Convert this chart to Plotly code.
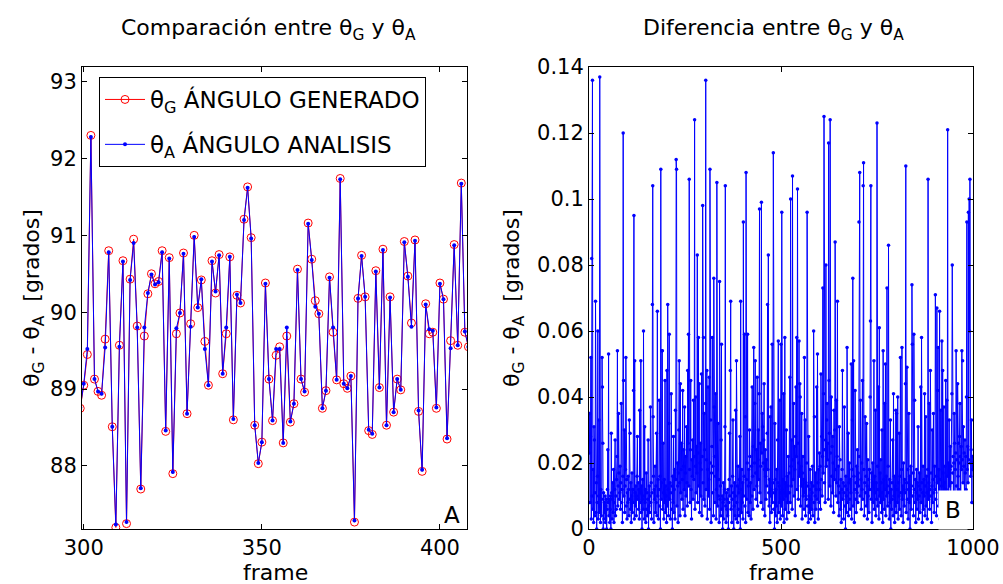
import plotly.graph_objects as go

# ---------------- data ----------------
frames_left = list(range(299, 409))
theta_g = [
    88.75, 89.05, 89.45, 92.30, 89.13, 88.97, 88.92, 89.65, 90.80, 88.51,
    87.20, 89.57, 90.67, 87.25, 90.43, 90.95, 89.82, 87.70, 89.69, 90.24,
    90.50, 90.37, 90.40, 90.80, 88.45, 90.71, 87.90, 89.72, 89.99, 90.77,
    88.68, 89.85, 91.00, 90.06, 90.42, 89.62, 89.05, 90.67, 90.25, 90.75,
    89.20, 89.72, 90.72, 88.60, 90.22, 90.12, 91.21, 91.63, 90.97, 88.53,
    88.03, 88.31, 90.38, 89.13, 88.59, 89.44, 89.55, 88.30, 89.69, 88.57,
    88.81, 90.56, 89.13, 88.96, 91.16, 90.69, 90.15, 89.98, 88.75, 88.98,
    90.46, 89.74, 89.12, 91.74, 89.07, 89.01, 89.17, 87.27, 90.18, 90.74,
    90.20, 88.46, 88.41, 90.54, 89.02, 90.82, 88.53, 90.20, 88.70, 89.13,
    88.99, 90.92, 90.47, 89.86, 90.94, 88.71, 87.93, 90.11, 89.72, 89.74,
    88.75, 90.38, 90.17, 88.35, 89.63, 90.88, 89.57, 91.68, 89.74, 89.55,
]
theta_a = [
    88.76, 89.07, 89.52, 92.28, 89.13, 88.97, 88.94, 89.54, 90.78, 88.51,
    87.24, 89.55, 90.66, 87.27, 90.42, 90.90, 89.80, 87.71, 89.80, 90.25,
    90.49, 90.36, 90.39, 90.78, 88.46, 90.70, 87.92, 89.79, 89.99, 90.76,
    88.68, 89.81, 90.98, 90.06, 90.43, 89.52, 89.05, 90.66, 90.27, 90.74,
    89.20, 89.80, 90.72, 88.61, 90.23, 90.12, 91.20, 91.62, 90.96, 88.53,
    88.04, 88.31, 90.37, 89.13, 88.59, 89.52, 89.52, 88.30, 89.80, 88.58,
    88.81, 90.55, 89.13, 88.97, 91.15, 90.68, 90.07, 89.98, 88.75, 88.98,
    90.45, 89.80, 89.12, 91.73, 89.07, 89.01, 89.17, 87.29, 90.18, 90.73,
    90.20, 88.47, 88.42, 90.53, 89.02, 90.81, 88.53, 90.19, 88.70, 89.13,
    88.99, 90.91, 90.46, 89.81, 90.93, 88.72, 87.95, 90.10, 89.78, 89.76,
    88.76, 90.37, 90.17, 88.36, 89.53, 90.87, 89.57, 91.67, 89.75, 89.55,
]

# |theta_G - theta_A| in thousandths of a degree, frames 1..1000
diff_milli = [
    23, 35, 8, 28, 52, 3, 82, 10, 136, 6, 18, 2, 31, 27, 4, 11, 69, 5, 14, 0,
    8, 16, 60, 3, 10, 33, 5, 137, 7, 2, 12, 4, 9, 52, 43, 26, 0, 11, 3, 8,
    5, 10, 2, 7, 9, 0, 6, 12, 24, 8, 53, 4, 9, 2, 6, 10, 0, 29, 11, 3,
    9, 14, 5, 18, 2, 8, 12, 27, 4, 10, 6, 15, 22, 54, 7, 13, 35, 17, 9, 11,
    19, 6, 14, 38, 8, 12, 2, 16, 120, 45, 10, 30, 5, 13, 18, 52, 7, 15, 3, 11,
    8, 16, 12, 4, 33, 9, 29, 6, 14, 2, 10, 17, 5, 12, 8, 42, 95, 3, 51, 11,
    7, 13, 4, 10, 16, 28, 9, 14, 6, 12, 3, 36, 8, 11, 51, 5, 13, 0, 9, 15,
    6, 60, 10, 3, 31, 8, 12, 2, 17, 6, 11, 4, 9, 27, 0, 7, 13, 5, 10, 37,
    8, 14, 3, 11, 68, 104, 34, 16, 2, 12, 9, 19, 5, 13, 8, 29, 4, 66, 10, 15,
    3, 12, 39, 7, 16, 0, 109, 9, 14, 54, 54, 6, 26, 11, 3, 15, 8, 45, 5, 13,
    10, 2, 48, 7, 68, 12, 4, 32, 59, 9, 14, 3, 11, 41, 6, 13, 0, 16, 8, 28,
    5, 12, 18, 3, 36, 15, 112, 109, 7, 20, 13, 2, 17, 30, 51, 14, 4, 44, 11, 18,
    26, 9, 15, 42, 6, 19, 24, 12, 37, 4, 17, 22, 10, 31, 14, 7, 48, 26, 59, 13,
    106, 18, 8, 24, 45, 12, 3, 21, 16, 27, 9, 39, 15, 22, 124, 6, 19, 40, 11, 25,
    17, 83, 8, 23, 58, 13, 44, 5, 20, 26, 10, 18, 47, 4, 22, 98, 14, 58, 9, 35,
    24, 7, 38, 136, 12, 21, 48, 3, 18, 43, 10, 15, 46, 6, 109, 20, 33, 2, 17, 25,
    58, 11, 19, 4, 76, 37, 22, 8, 16, 41, 3, 12, 105, 18, 7, 32, 10, 15, 2, 75,
    9, 13, 4, 27, 56, 6, 10, 0, 8, 14, 3, 9, 12, 31, 104, 7, 2, 11, 6, 9,
    4, 12, 0, 8, 15, 29, 10, 48, 69, 6, 13, 2, 9, 16, 33, 11, 0, 7, 14, 4,
    10, 36, 3, 51, 8, 13, 2, 19, 6, 11, 4, 15, 28, 0, 69, 12, 5, 18, 8, 14,
    3, 93, 10, 16, 59, 7, 34, 2, 108, 15, 9, 20, 59, 5, 13, 18, 4, 30, 22, 8,
    14, 3, 19, 10, 43, 16, 6, 25, 55, 12, 20, 38, 51, 17, 9, 24, 13, 46, 7, 21,
    30, 15, 41, 97, 11, 26, 19, 8, 99, 23, 35, 31, 6, 20, 27, 44, 18, 4, 24, 16,
    9, 21, 13, 29, 68, 18, 83, 11, 7, 15, 2, 34, 10, 37, 5, 12, 56, 8, 14, 114,
    6, 11, 0, 32, 15, 4, 12, 7, 18, 2, 27, 14, 57, 5, 13, 8, 39, 3, 11, 56,
    7, 96, 12, 4, 15, 9, 41, 2, 11, 58, 6, 14, 10, 30, 3, 16, 8, 13, 22, 5,
    17, 11, 46, 8, 100, 19, 13, 27, 6, 107, 21, 15, 38, 10, 25, 18, 4, 28, 43, 22,
    58, 12, 103, 26, 9, 20, 57, 16, 44, 40, 7, 19, 13, 35, 3, 17, 22, 10, 15, 6,
    52, 11, 33, 4, 14, 9, 20, 96, 7, 13, 2, 28, 10, 5, 12, 18, 3, 9, 14, 6,
    11, 19, 4, 13, 60, 8, 34, 2, 10, 17, 6, 12, 43, 9, 53, 14, 3, 18, 8, 23,
    12, 19, 6, 47, 15, 28, 10, 22, 73, 17, 41, 125, 14, 24, 8, 27, 80, 19, 33, 38,
    21, 26, 9, 117, 45, 29, 13, 124, 23, 7, 40, 16, 25, 11, 28, 20, 5, 36, 15, 30,
    87, 18, 10, 39, 14, 22, 69, 8, 19, 13, 4, 31, 11, 21, 6, 15, 2, 12, 18, 48,
    9, 14, 3, 11, 37, 7, 13, 0, 16, 10, 5, 55, 12, 8, 29, 4, 14, 20, 9, 6,
    15, 11, 50, 3, 18, 33, 76, 7, 51, 16, 2, 12, 42, 9, 14, 5, 19, 11, 24, 8,
    17, 13, 93, 22, 108, 10, 39, 15, 6, 20, 12, 45, 9, 104, 111, 18, 4, 14, 34, 11,
    16, 7, 32, 13, 3, 21, 10, 15, 5, 18, 12, 40, 63, 104, 9, 17, 2, 14, 20, 8,
    13, 51, 6, 16, 11, 36, 4, 14, 9, 123, 19, 7, 12, 43, 3, 61, 10, 17, 8, 21,
    14, 5, 30, 11, 2, 54, 9, 15, 6, 38, 12, 50, 4, 16, 10, 73, 13, 7, 19, 86,
    11, 3, 15, 8, 33, 0, 12, 6, 14, 9, 27, 4, 41, 10, 16, 2, 13, 7, 36, 5,
    35, 12, 8, 40, 3, 14, 10, 29, 6, 16, 52, 11, 4, 18, 55, 9, 13, 2, 20, 12,
    7, 15, 11, 44, 110, 5, 14, 49, 9, 18, 3, 12, 35, 8, 16, 0, 11, 19, 6, 13,
    74, 56, 10, 17, 4, 59, 12, 39, 8, 15, 2, 11, 18, 6, 14, 9, 31, 3, 13, 10,
    17, 5, 12, 43, 8, 58, 14, 2, 11, 19, 6, 15, 10, 41, 4, 13, 34, 7, 16, 11,
    3, 18, 106, 9, 14, 38, 6, 12, 48, 10, 17, 2, 13, 30, 8, 15, 35, 11, 5, 19,
    12, 71, 9, 16, 4, 67, 14, 42, 55, 7, 18, 11, 66, 3, 15, 36, 9, 13, 57, 6,
    48, 17, 10, 37, 5, 14, 19, 8, 45, 12, 2, 39, 16, 121, 11, 20, 7, 33, 13, 18,
    25, 9, 19, 14, 41, 80, 17, 22, 6, 20, 35, 26, 11, 18, 23, 54, 13, 21, 8, 44,
    16, 26, 12, 20, 28, 38, 22, 10, 25, 18, 54, 21, 51, 14, 31, 19, 23, 9, 27, 17,
    22, 12, 40, 93, 18, 25, 14, 96, 21, 100, 60, 106, 20, 16, 24, 33, 8, 22, 18, 20,
]
frames_right = list(range(1, len(diff_milli) + 1))
diff_deg = [v / 1000 for v in diff_milli]

x_ticks_left = [300, 350, 400]
y_ticks_left = [88, 89, 90, 91, 92, 93]
x_ticks_right = [0, 500, 1000]
y_ticks_right = [0, 0.02, 0.04, 0.06, 0.08, 0.1, 0.12, 0.14]
y_ticktext_right = ["0", "0.02", "0.04", "0.06", "0.08", "0.1", "0.12", "0.14"]

# ---------------- figure ----------------
FONT = "DejaVu Sans"
W, H = 1003, 584

fig = go.Figure()

fig.add_trace(go.Scatter(
    x=frames_left, y=theta_g, mode="lines+markers",
    name="θ<sub>G</sub> ÁNGULO GENERADO", legendgroup="g",
    line=dict(color="#ff0000", width=1),
    marker=dict(symbol="circle-open", size=8, color="#ff0000", line=dict(width=1, color="#ff0000")),
    xaxis="x", yaxis="y",
))
fig.add_trace(go.Scatter(
    x=frames_left, y=theta_a, mode="lines+markers",
    name="θ<sub>A</sub> ÁNGULO ANALISIS", legendgroup="a",
    line=dict(color="#0000ff", width=1),
    marker=dict(symbol="circle", size=4, color="#0000ff"),
    xaxis="x", yaxis="y",
))
fig.add_trace(go.Scatter(
    x=frames_right, y=diff_deg, mode="lines+markers",
    showlegend=False,
    line=dict(color="#0000ff", width=1),
    marker=dict(symbol="circle", size=3.5, color="#0000ff"),
    xaxis="x2", yaxis="y2",
))

def px_x(p):
    return p / W

def px_y(p):
    return 1 - p / H

axis_common = dict(
    showline=True, linecolor="black", linewidth=1, mirror="ticks",
    ticks="inside", ticklen=5, tickcolor="black", tickwidth=1,
    showgrid=False, zeroline=False, automargin=False,
    tickfont=dict(family=FONT, size=21, color="black"),
)

fig.update_layout(
    template="none",
    width=W, height=H,
    margin=dict(l=0, r=0, t=0, b=0, pad=0),
    paper_bgcolor="white", plot_bgcolor="white",
    font=dict(family=FONT, size=21, color="black"),
    xaxis=dict(domain=[px_x(82), px_x(467)], range=[299.5, 407.6],
               tickvals=x_ticks_left, anchor="y", **axis_common),
    yaxis=dict(domain=[px_y(529), px_y(67)], range=[87.18, 93.19],
               tickvals=y_ticks_left, anchor="x", **axis_common),
    xaxis2=dict(domain=[px_x(589), px_x(973)], range=[0, 1000],
                tickvals=x_ticks_right, anchor="y2", **axis_common),
    yaxis2=dict(domain=[px_y(529), px_y(67)], range=[0, 0.14],
                tickvals=y_ticks_right, ticktext=y_ticktext_right,
                anchor="x2", **axis_common),
    legend=dict(
        x=px_x(99), y=px_y(77), xanchor="left", yanchor="top",
        bordercolor="black", borderwidth=1, bgcolor="white",
        font=dict(family=FONT, size=23, color="black"),
        traceorder="grouped", tracegroupgap=12, itemwidth=40,
    ),
    showlegend=True,
)

annotations = [
    dict(text="Comparación entre θ<sub>G</sub> y θ<sub>A</sub>", x=px_x(268), y=px_y(30),
         font=dict(size=22)),
    dict(text="Diferencia entre θ<sub>G</sub> y θ<sub>A</sub>", x=px_x(773), y=px_y(30),
         font=dict(size=22)),
    dict(text="frame", x=px_x(275), y=px_y(572), font=dict(size=22)),
    dict(text="frame", x=px_x(781), y=px_y(572), font=dict(size=22)),
    dict(text="θ<sub>G</sub> - θ<sub>A</sub>&nbsp; [grados]", x=px_x(33), y=px_y(298),
         textangle=-90, font=dict(size=22)),
    dict(text="θ<sub>G</sub> - θ<sub>A</sub>&nbsp; [grados]", x=px_x(513), y=px_y(298),
         textangle=-90, font=dict(size=22)),
    dict(text="A", x=px_x(452), y=px_y(515), font=dict(size=23)),
    dict(text="B", x=px_x(953), y=px_y(510), font=dict(size=23),
         bgcolor="white", borderpad=6),
]
for a in annotations:
    a.update(xref="paper", yref="paper", showarrow=False,
             xanchor="center", yanchor="middle")
    a["font"].update(family=FONT, color="black")
fig.update_layout(annotations=annotations)

fig.write_html("out.html")
